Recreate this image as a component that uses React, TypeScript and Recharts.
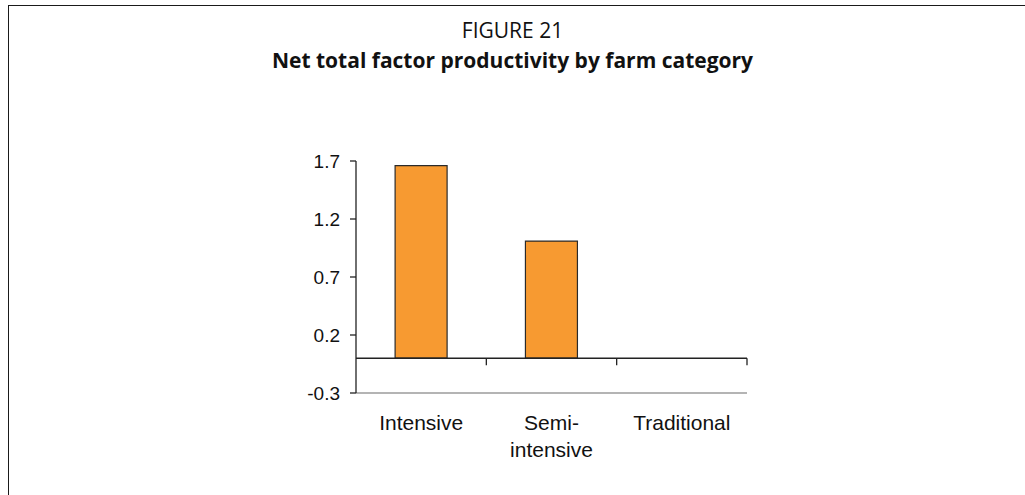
import React from "react";
import { BarChart, Bar, XAxis, YAxis, ReferenceLine } from "recharts";

// Farm categories and their net total factor productivity
const categories: string[] = ["Intensive", "Semi-intensive", "Traditional"];
const productivity: number[] = [1.66, 1.01, 0];
const yTicks: number[] = [-0.3, 0.2, 0.7, 1.2, 1.7];

const data = categories.map((name, i) => ({ name, value: productivity[i] }));

const W = 1025;
const H = 495;
const AXIS_FONT = "'Liberation Sans', Arial, Helvetica, sans-serif";
const TITLE_FONT = "'Open Sans', 'Noto Sans', sans-serif";

// Category label, wrapped after a hyphen
const CategoryTick = (props: any) => {
  const { x, y, payload } = props;
  const text: string = payload.value;
  const idx = text.indexOf("-");
  const lines = idx >= 0 ? [text.slice(0, idx + 1), text.slice(idx + 1)] : [text];
  return (
    <text
      x={x}
      y={y}
      textAnchor="middle"
      fontFamily={AXIS_FONT}
      fontSize={21}
      fill="#111"
    >
      {lines.map((ln, i) => (
        <tspan key={i} x={x} dy={i === 0 ? 29 : 27}>
          {ln}
        </tspan>
      ))}
    </text>
  );
};

// Zero baseline with downward tick marks at category boundaries
const ZeroLine = (props: any) => {
  const { x1, y1, x2, y2 } = props;
  const n = categories.length;
  const step = (x2 - x1) / n;
  const marks = [];
  for (let k = 1; k <= n; k++) {
    const x = x1 + step * k;
    marks.push(
      <line key={k} x1={x} y1={y1} x2={x} y2={y1 + 7} stroke="#222" strokeWidth={1.3} />
    );
  }
  return (
    <g>
      <line x1={x1} y1={y1} x2={x2} y2={y2} stroke="#222" strokeWidth={1.5} />
      {marks}
    </g>
  );
};

export default function App() {
  return (
    <div style={{ position: "relative", width: W, height: H, background: "#fff" }}>
      <style>{"body{margin:0;}"}</style>
      {/* frame */}
      <div
        style={{
          position: "absolute",
          left: 8,
          top: 5,
          width: W - 8,
          height: H - 5,
          borderTop: "1.5px solid #1a1a1a",
          borderLeft: "1.5px solid #1a1a1a",
          boxSizing: "border-box",
        }}
      />
      <div
        style={{
          position: "absolute",
          left: 0,
          width: W,
          top: 15,
          textAlign: "center",
          fontFamily: TITLE_FONT,
          color: "#111",
          lineHeight: "30px",
          fontSize: 21,
        }}
      >
        <div>FIGURE 21</div>
        <div style={{ fontWeight: 700 }}>
          Net total factor productivity by farm category
        </div>
      </div>
      <div style={{ position: "absolute", left: 0, top: 0 }}>
        <BarChart
          width={W}
          height={H}
          data={data}
          margin={{ top: 161, right: 278, bottom: 42, left: 296 }}
          barCategoryGap="30%"
        >
          <XAxis
            dataKey="name"
            axisLine={{ stroke: "#b4b4b4", strokeWidth: 2 }}
            tickLine={false}
            tick={<CategoryTick />}
            interval={0}
            height={60}
          />
          <YAxis
            domain={[-0.3, 1.7]}
            ticks={yTicks}
            type="number"
            allowDataOverflow
            width={60}
            axisLine={{ stroke: "#222", strokeWidth: 1.3 }}
            tickLine={{ stroke: "#222", strokeWidth: 1.3 }}
            tickSize={6}
            tickMargin={10}
            tick={{ fontFamily: AXIS_FONT, fontSize: 19, fill: "#111" }}
            tickFormatter={(v: number) => v.toFixed(1)}
          />
          <Bar
            dataKey="value"
            fill="#F79A31"
            stroke="#2a2a2a"
            strokeWidth={1.2}
            isAnimationActive={false}
          />
          <ReferenceLine y={0} shape={<ZeroLine />} />
        </BarChart>
      </div>
    </div>
  );
}
